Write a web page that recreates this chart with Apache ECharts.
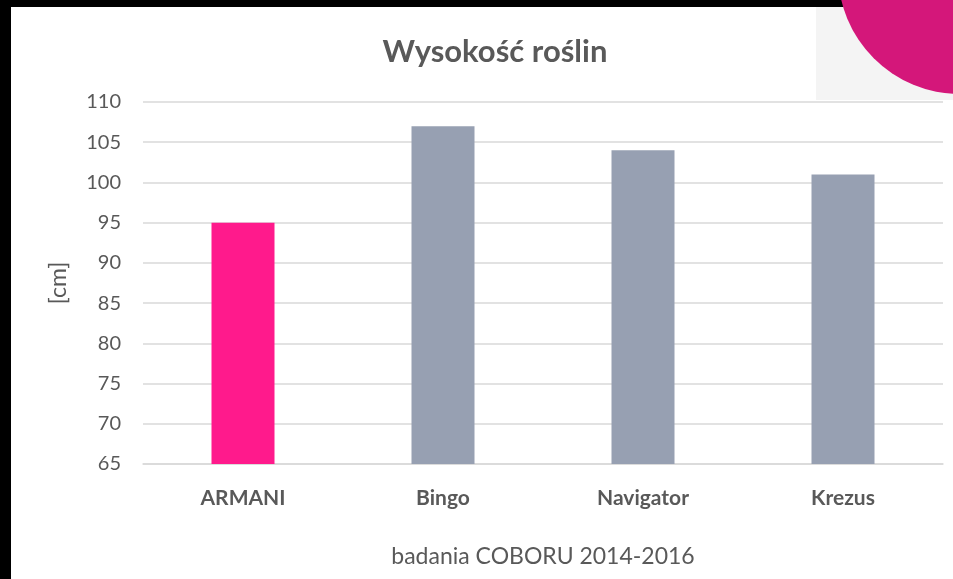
<!DOCTYPE html>
<html>
<head>
<meta charset="utf-8">
<title>Wysokość roślin</title>
<script src="https://cdn.jsdelivr.net/npm/echarts@6/dist/echarts.min.js"></script>
<style>
  html, body { margin: 0; padding: 0; background: #000; }
  #chart { width: 953px; height: 579px; }
</style>
</head>
<body>
<div id="chart"></div>
<script>
// dane z wykresu
var categories = ['ARMANI', 'Bingo', 'Navigator', 'Krezus'];
var heights = [95, 107, 104, 101];
var barColors = ['#ff1a8c', '#97a0b2', '#97a0b2', '#97a0b2'];
var yMin = 65, yMax = 110, yStep = 5;

var textColor = '#595959';
var fontFamily = 'Lato, "Open Sans", sans-serif';

var myChart = echarts.init(document.getElementById('chart'));

var option = {
    backgroundColor: '#fff',
    animation: false,
    textStyle: { fontFamily: fontFamily },
    title: {
        text: 'Wysokość roślin',
        left: 490,
        top: 31,
        textAlign: 'center',
        textStyle: { color: textColor, fontSize: 31, fontWeight: 'bold', fontFamily: fontFamily }
    },
    grid: { left: 143, right: 10, top: 102, bottom: 115 },
    xAxis: {
        type: 'category',
        data: categories,
        name: 'badania COBORU 2014-2016',
        nameLocation: 'middle',
        nameGap: 81,
        nameTextStyle: { color: textColor, fontSize: 23, fontFamily: fontFamily },
        axisLine: { lineStyle: { color: '#d9d9d9', width: 1.5 } },
        axisTick: { show: false },
        axisLabel: { color: textColor, fontSize: 21, fontWeight: 'bold', margin: 24, fontFamily: fontFamily }
    },
    yAxis: {
        type: 'value',
        min: yMin,
        max: yMax,
        interval: yStep,
        name: '[cm]',
        nameLocation: 'middle',
        nameRotate: 90,
        nameGap: 73,
        nameTextStyle: { color: textColor, fontSize: 23, fontFamily: fontFamily },
        axisLine: { show: false },
        axisTick: { show: false },
        axisLabel: { color: textColor, fontSize: 20, margin: 22, fontFamily: fontFamily },
        splitLine: { lineStyle: { color: '#d9d9d9', width: 1.5 } }
    },
    series: [{
        type: 'bar',
        barWidth: 63,
        data: heights.map(function (v, i) {
            return { value: v, itemStyle: { color: barColors[i] } };
        })
    }],
    // ramka slajdu i naklejka w rogu
    graphic: [
        { type: 'rect', z: -10, shape: { x: 816, y: 7, width: 137, height: 93 },
          style: { fill: '#f4f4f4' } },
        { type: 'rect', shape: { x: 0, y: 0, width: 953, height: 7 }, style: { fill: '#000' } },
        { type: 'rect', shape: { x: 0, y: 0, width: 11, height: 579 }, style: { fill: '#000' } },
        { type: 'circle', shape: { cx: 960, cy: -28, r: 122 }, style: { fill: '#d4177a' } }
    ]
};

myChart.setOption(option);
</script>
</body>
</html>
